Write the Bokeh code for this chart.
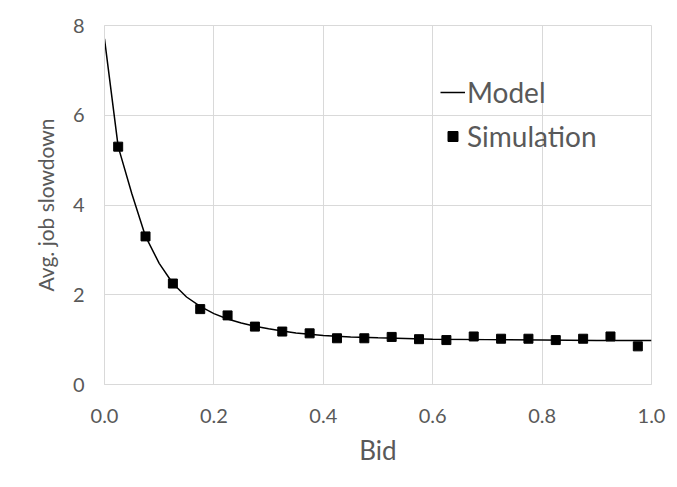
from bokeh.plotting import figure
from bokeh.models import Range1d, Legend, LegendItem, SingleIntervalTicker, PrintfTickFormatter
from bokeh.embed import file_html
from bokeh.resources import INLINE

# Model curve
model_bid = [0.0, 0.025, 0.05, 0.075, 0.1, 0.125, 0.15, 0.175, 0.2, 0.225, 0.25,
             0.275, 0.3, 0.325, 0.35, 0.375, 0.4, 0.45, 0.5, 0.6, 0.7, 0.8, 0.9, 1.0]
model_slowdown = [7.7, 5.3, 4.25, 3.3, 2.7, 2.25, 1.95, 1.74, 1.58, 1.46, 1.37,
                  1.3, 1.24, 1.19, 1.15, 1.12, 1.09, 1.06, 1.04, 1.01, 1.0, 0.99, 0.98, 0.98]

# Simulation points
sim_bid = [0.025, 0.075, 0.125, 0.175, 0.225, 0.275, 0.325, 0.375, 0.425, 0.475,
           0.525, 0.575, 0.625, 0.675, 0.725, 0.775, 0.825, 0.875, 0.925, 0.975]
sim_slowdown = [5.3, 3.3, 2.25, 1.68, 1.54, 1.29, 1.18, 1.14, 1.03, 1.03,
                1.06, 1.01, 0.99, 1.07, 1.02, 1.02, 0.99, 1.02, 1.07, 0.85]

FONT = "Lato"
TXT = "#595959"
GRID = "#d9d9d9"

p = figure(width=669, height=480, output_backend="svg", toolbar_location=None,
           x_range=Range1d(0, 1), y_range=Range1d(0, 8),
           min_border_left=104, min_border_right=18, min_border_top=25, min_border_bottom=96)

p.outline_line_color = GRID
p.background_fill_color = "white"
p.border_fill_color = "white"

p.xaxis.ticker = SingleIntervalTicker(interval=0.2)
p.yaxis.ticker = SingleIntervalTicker(interval=2)
p.xaxis.formatter = PrintfTickFormatter(format="%.1f")
p.xgrid.ticker = SingleIntervalTicker(interval=0.2)
p.ygrid.ticker = SingleIntervalTicker(interval=2)
p.grid.grid_line_color = GRID
p.grid.grid_line_width = 1

for ax in (p.xaxis, p.yaxis):
    ax.axis_line_color = GRID
    ax.major_tick_line_color = None
    ax.minor_tick_line_color = None
    ax.major_tick_out = 0
    ax.major_tick_in = 0
    ax.major_label_text_color = TXT
    ax.major_label_text_font = FONT
    ax.major_label_text_font_size = "20px"
    ax.axis_label_text_color = TXT
    ax.axis_label_text_font = FONT
    ax.axis_label_text_font_style = "normal"

p.xaxis.axis_label = "Bid"
p.yaxis.axis_label = "Avg. job slowdown"
p.xaxis.axis_label_text_font_size = "26px"
p.yaxis.axis_label_text_font_size = "21px"
p.xaxis.major_label_standoff = 20
p.xaxis.axis_label_standoff = 8
p.yaxis.major_label_standoff = 16
p.yaxis.axis_label_standoff = 12

line_r = p.line(model_bid, model_slowdown, line_color="black", line_width=1.5)
sim_r = p.scatter(sim_bid, sim_slowdown, marker="square", size=9,
                  fill_color="black", line_color="black")

legend = Legend(items=[LegendItem(label="Model", renderers=[line_r]),
                       LegendItem(label="Simulation", renderers=[sim_r])],
                location=(336, 231))
legend.border_line_color = None
legend.background_fill_alpha = 0
legend.label_text_font = FONT
legend.label_text_font_size = "28px"
legend.label_text_color = TXT
legend.glyph_width = 25
legend.glyph_height = 34
legend.label_height = 34
legend.label_standoff = 2
legend.spacing = 10
legend.padding = 0
legend.margin = 0
p.add_layout(legend, "center")

open("out.html", "w").write(file_html(p, INLINE))
